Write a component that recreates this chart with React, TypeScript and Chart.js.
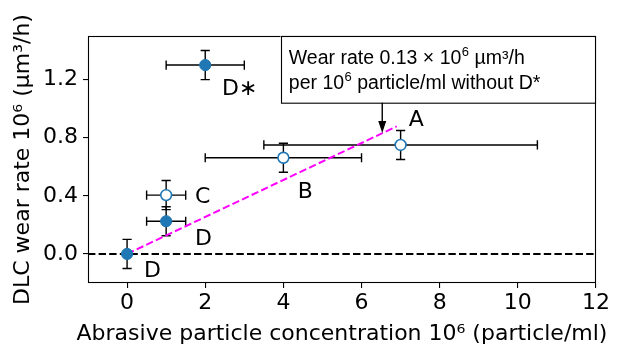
import React, { useEffect, useRef } from 'react';
import { Chart, registerables } from 'chart.js';

Chart.register(...registerables);

// ---- data ----
const xTicks = [0, 2, 4, 6, 8, 10, 12];
const yTicks = [0, 0.4, 0.8, 1.2];

// filled markers (D, D, D*)
const filledX = [0, 1, 2];
const filledY = [0, 0.225, 1.3];
const filledXErr = [0, 0.5, 1];
const filledYErr = [0.1, 0.1, 0.1];

// open markers (C, B, A)
const openX = [1, 4, 7];
const openY = [0.405, 0.662, 0.75];
const openXErr = [0.5, 2, 3.5];
const openYErr = [0.1, 0.1, 0.1];

// dashed magenta fit line endpoints
const fitX = [0, 6.9];
const fitY = [0, 0.878];

// horizontal zero reference line
const zeroX = [-1, 12];
const zeroY = [0, 0];

// point letter labels (data coords of left/baseline)
const pointLabelText = ['A', 'B', 'C', 'D', 'D', 'D\u2217'];
const pointLabelX = [7.21, 4.37, 1.74, 1.74, 0.43, 2.43];
const pointLabelY = [0.883, 0.386, 0.352, 0.062, -0.159, 1.097];

// axis titles
const xTitle = 'Abrasive particle concentration 10\u2076 (particle/ml)';
const yTitle = 'DLC wear rate 10\u2076 (\u00b5m\u00b3/h)';

// annotation
const noteLine1 = ['Wear rate 0.13 \u00d7 10', '6', ' \u00b5m\u00b3/h'];
const noteLine2 = ['per 10', '6', ' particle/ml without D*'];
const arrowTipX = 6.53;
const arrowTipY = 0.832;

const FONT = 'DejaVu Sans';
const NOTE_FONT = 'Liberation Sans';
const TITLE_SIZE = 22;

const overlay = {
  id: 'overlay',
  beforeDatasetsDraw(chart: any) {
    const { ctx, scales } = chart;
    const xs = scales.x;
    const ys = scales.y;
    ctx.save();
    ctx.strokeStyle = '#000';
    ctx.lineWidth = 1.4;
    const cap = 4.6;
    const drawSet = (X: number[], Y: number[], XE: number[], YE: number[]) => {
      for (let i = 0; i < X.length; i++) {
        const px = xs.getPixelForValue(X[i]);
        const py = ys.getPixelForValue(Y[i]);
        ctx.beginPath();
        if (XE[i] > 0) {
          const l = xs.getPixelForValue(X[i] - XE[i]);
          const r = xs.getPixelForValue(X[i] + XE[i]);
          ctx.moveTo(l, py); ctx.lineTo(r, py);
          ctx.moveTo(l, py - cap); ctx.lineTo(l, py + cap);
          ctx.moveTo(r, py - cap); ctx.lineTo(r, py + cap);
        }
        if (YE[i] > 0) {
          const t = ys.getPixelForValue(Y[i] + YE[i]);
          const b = ys.getPixelForValue(Y[i] - YE[i]);
          ctx.moveTo(px, t); ctx.lineTo(px, b);
          ctx.moveTo(px - cap, t); ctx.lineTo(px + cap, t);
          ctx.moveTo(px - cap, b); ctx.lineTo(px + cap, b);
        }
        ctx.stroke();
      }
    };
    drawSet(filledX, filledY, filledXErr, filledYErr);
    drawSet(openX, openY, openXErr, openYErr);
    ctx.restore();
  },
  afterDatasetsDraw(chart: any) {
    const { ctx, chartArea, scales } = chart;
    const xs = scales.x;
    const ys = scales.y;
    ctx.save();
    // frame
    ctx.strokeStyle = '#000';
    ctx.lineWidth = 1.1;
    ctx.strokeRect(chartArea.left + 0.5, chartArea.top + 0.5,
      chartArea.right - chartArea.left - 1, chartArea.bottom - chartArea.top - 1);

    // letter labels
    ctx.fillStyle = '#000';
    ctx.font = `22px "${FONT}"`;
    ctx.textAlign = 'left';
    ctx.textBaseline = 'alphabetic';
    for (let i = 0; i < pointLabelText.length; i++) {
      ctx.fillText(pointLabelText[i], xs.getPixelForValue(pointLabelX[i]), ys.getPixelForValue(pointLabelY[i]));
    }

    // x axis title (drawn here so it is not squeezed to the plot width)
    ctx.font = `${TITLE_SIZE}px "${FONT}"`;
    ctx.textAlign = 'center';
    ctx.fillText(xTitle, (chartArea.left + chartArea.right) / 2, chart.height - 6);
    ctx.textAlign = 'left';

    // annotation box anchored at upper right of axes
    const boxW = 315.5;
    const boxH = 66.7;
    const bx = chartArea.right - boxW;
    const by = chartArea.top;
    ctx.fillStyle = '#fff';
    ctx.fillRect(bx, by, boxW, boxH);
    ctx.strokeStyle = '#000';
    ctx.lineWidth = 1.1;
    ctx.strokeRect(Math.round(bx) + 0.5, by + 0.5, chartArea.right - Math.round(bx) - 1, boxH);

    const drawLine = (parts: string[], x0: number, base: number) => {
      ctx.fillStyle = '#000';
      ctx.font = `19.5px "${NOTE_FONT}"`;
      ctx.fillText(parts[0], x0, base);
      let x = x0 + ctx.measureText(parts[0]).width;
      ctx.font = `13px "${NOTE_FONT}"`;
      ctx.fillText(parts[1], x + 0.5, base - 7.5);
      x += ctx.measureText(parts[1]).width + 0.5;
      ctx.font = `19.5px "${NOTE_FONT}"`;
      ctx.fillText(parts[2], x, base);
    };
    drawLine(noteLine1, bx + 8.3, by + 27.8);
    drawLine(noteLine2, bx + 8.3, by + 52.6);

    // arrow
    const ax = xs.getPixelForValue(arrowTipX);
    const ay = ys.getPixelForValue(arrowTipY);
    const startY = by + boxH;
    ctx.strokeStyle = '#000';
    ctx.lineWidth = 1.4;
    ctx.beginPath();
    ctx.moveTo(ax, startY);
    ctx.lineTo(ax, ay - 8);
    ctx.stroke();
    ctx.fillStyle = '#000';
    ctx.beginPath();
    ctx.moveTo(ax, ay);
    ctx.lineTo(ax - 4, ay - 12);
    ctx.lineTo(ax + 4, ay - 12);
    ctx.closePath();
    ctx.fill();
    ctx.restore();
  },
};

const toPts = (X: number[], Y: number[]) => X.map((v, i) => ({ x: v, y: Y[i] }));

export default function App() {
  const ref = useRef<HTMLCanvasElement | null>(null);
  useEffect(() => {
    document.body.style.margin = '0';
    const canvas = ref.current;
    if (!canvas) return;
    const chart = new Chart(canvas, {
      type: 'scatter',
      data: {
        datasets: [
          {
            data: toPts(zeroX, zeroY),
            showLine: true,
            borderColor: '#000',
            borderWidth: 2,
            borderDash: [7.4, 3.2],
            pointRadius: 0,
            order: 5,
          },
          {
            data: toPts(fitX, fitY),
            showLine: true,
            borderColor: '#ff00ff',
            borderWidth: 2,
            borderDash: [7.4, 3.2],
            pointRadius: 0,
            order: 4,
          },
          {
            data: toPts(openX, openY),
            showLine: false,
            pointRadius: 5.4,
            pointBackgroundColor: '#ffffff',
            pointBorderColor: '#1f77b4',
            pointBorderWidth: 1.6,
            order: 2,
          },
          {
            data: toPts(filledX, filledY),
            showLine: false,
            pointRadius: 5.6,
            pointBackgroundColor: '#1f77b4',
            pointBorderColor: '#1f77b4',
            pointBorderWidth: 1,
            order: 1,
          },
        ],
      } as any,
      options: {
        animation: false,
        responsive: false,
        devicePixelRatio: 1,
        layout: { padding: { left: 0, top: 36, right: 21, bottom: 0 } },
        plugins: { legend: { display: false }, tooltip: { enabled: false } },
        scales: {
          x: {
            type: 'linear',
            min: -1,
            max: 12,
            afterBuildTicks: (s: any) => { s.ticks = xTicks.map((v) => ({ value: v })); },
            afterFit: (s: any) => { s.height = 63; },
            grid: { drawOnChartArea: false, drawTicks: true, tickLength: 5, color: '#000', lineWidth: 1.1 },
            border: { display: false },
            ticks: {
              color: '#000',
              font: { size: 22, family: FONT, lineHeight: 1.2 },
              padding: 2,
              maxRotation: 0,
              autoSkip: false,
              callback: (v: any) => String(v),
            },
            title: { display: false },
          },
          y: {
            type: 'linear',
            min: -0.2,
            max: 1.5,
            afterBuildTicks: (s: any) => { s.ticks = yTicks.map((v) => ({ value: v })); },
            afterFit: (s: any) => { s.width = 88; },
            grid: { drawOnChartArea: false, drawTicks: true, tickLength: 5, color: '#000', lineWidth: 1.1 },
            border: { display: false },
            ticks: {
              color: '#000',
              font: { size: 22, family: FONT, lineHeight: 1.2 },
              padding: 5,
              autoSkip: false,
              callback: (v: any) => Number(v).toFixed(1),
            },
            title: {
              display: true,
              text: yTitle,
              color: '#000',
              font: { size: TITLE_SIZE, family: FONT, lineHeight: 1.2 },
              padding: { top: 10, bottom: 0 },
            },
          },
        },
      } as any,
      plugins: [overlay],
    });
    return () => chart.destroy();
  }, []);
  return (
    <div style={{ width: 617, height: 346 }}>
      <canvas ref={ref} width={617} height={346} style={{ display: 'block', width: 617, height: 346 }} />
    </div>
  );
}
